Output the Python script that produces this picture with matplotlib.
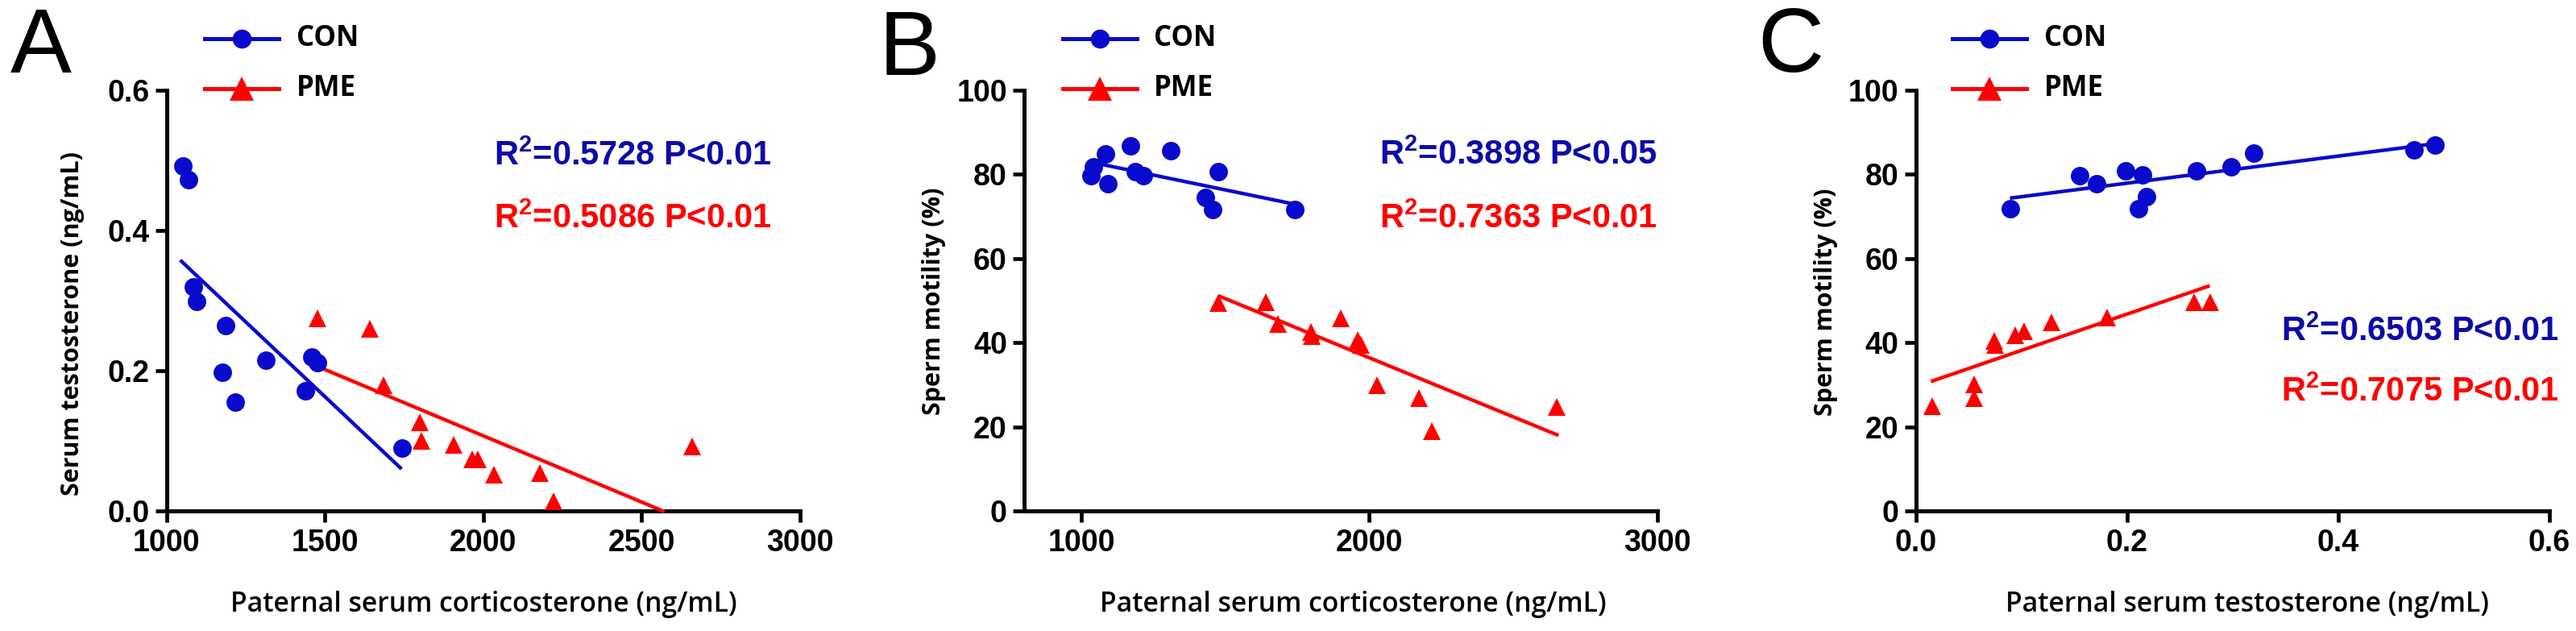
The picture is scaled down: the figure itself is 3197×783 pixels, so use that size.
import numpy as np
import matplotlib
matplotlib.use("Agg")
from matplotlib import pyplot as plt
from matplotlib.lines import Line2D

plt.rcParams['mathtext.fontset'] = 'custom'
plt.rcParams['mathtext.rm'] = 'Liberation Sans:bold'
plt.rcParams['mathtext.bf'] = 'Liberation Sans:bold'

# ---- data ----
# panel A: corticosterone vs testosterone
a_con_x = [1052, 1069, 1085, 1095, 1175, 1186, 1217, 1314, 1437, 1458, 1477, 1743]
a_con_y = [0.492, 0.472, 0.319, 0.299, 0.198, 0.264, 0.155, 0.215, 0.171, 0.220, 0.211, 0.090]
a_pme_x = [1477, 1641, 1684, 1799, 1804, 1906, 1964, 1983, 2033, 2179, 2222, 2660]
a_pme_y = [0.275, 0.260, 0.179, 0.126, 0.100, 0.094, 0.073, 0.073, 0.052, 0.054, 0.014, 0.092]
a_con_fit_x = [1047, 1738]
a_con_fit_y = [0.356, 0.0615]
a_pme_fit_x = [1498, 2567]
a_pme_fit_y = [0.202, 0.0]

# panel B: corticosterone vs motility
b_con_x = [1034, 1042, 1083, 1093, 1171, 1186, 1214, 1311, 1431, 1455, 1475, 1742]
b_con_y = [79.6, 81.8, 84.8, 77.7, 86.7, 80.7, 79.6, 85.7, 74.5, 71.6, 80.7, 71.6]
b_pme_x = [1476, 1640, 1682, 1797, 1800, 1902, 1959, 1972, 2026, 2173, 2217, 2652]
b_pme_y = [49.5, 49.6, 44.5, 42.5, 41.5, 45.8, 40.6, 39.5, 29.8, 26.8, 18.9, 24.8]
b_con_fit_x = [1076, 1742]
b_con_fit_y = [82.3, 72.9]
b_pme_fit_x = [1481, 2652]
b_pme_fit_y = [51.0, 18.1]

# panel C: testosterone vs motility
c_con_x = [0.090, 0.155, 0.171, 0.199, 0.211, 0.215, 0.219, 0.266, 0.299, 0.320, 0.472, 0.492]
c_con_y = [71.8, 79.7, 77.8, 80.9, 71.8, 79.9, 74.8, 80.9, 81.8, 85.0, 85.8, 86.9]
c_pme_x = [0.0155, 0.055, 0.055, 0.0745, 0.0755, 0.094, 0.103, 0.129, 0.181, 0.264, 0.279]
c_pme_y = [24.9, 30.0, 26.8, 40.5, 39.5, 41.8, 42.7, 44.8, 45.9, 49.6, 49.6]
c_con_fit_x = [0.091, 0.492]
c_con_fit_y = [74.4, 87.3]
c_pme_fit_x = [0.0159, 0.277]
c_pme_fit_y = [30.9, 53.4]

stats = {
    'A': ('R$^2$=0.5728 P<0.01', 'R$^2$=0.5086 P<0.01'),
    'B': ('R$^2$=0.3898 P<0.05', 'R$^2$=0.7363 P<0.01'),
    'C': ('R$^2$=0.6503 P<0.01', 'R$^2$=0.7075 P<0.01'),
}

BLUE = '#0A0ACD'
BLUE_TXT = '#0C0CA8'
RED = '#FF0000'
W, H = 3197, 783

fig = plt.figure(figsize=(W / 100, H / 100), dpi=100)

def make_axes(left_px, xlim, xticks, xticklabels, ylim, yticks, yticklabels):
    ax = fig.add_axes([left_px / W, 1 - 634 / H, 786 / W, 522 / H])
    ax.set_xlim(*xlim)
    ax.set_ylim(*ylim)
    for s in ['top', 'right']:
        ax.spines[s].set_visible(False)
    for s in ['left', 'bottom']:
        ax.spines[s].set_linewidth(3.6)
    ax.set_xticks(xticks)
    ax.set_xticklabels(xticklabels)
    ax.set_yticks(yticks)
    ax.set_yticklabels(yticklabels)
    ax.tick_params(direction='out', length=10, width=3.4, labelsize=27)
    ax.tick_params(axis='x', pad=6)
    ax.tick_params(axis='y', pad=5)
    for lab in ax.get_xticklabels() + ax.get_yticklabels():
        lab.set_family('Liberation Sans')
        lab.set_fontweight('bold')
    return ax

def draw(ax, cx, cy, px, py, cfx, cfy, pfx, pfy):
    ax.plot(cfx, cfy, color=BLUE, lw=3.2, zorder=3, clip_on=False)
    ax.plot(pfx, pfy, color=RED, lw=3.2, zorder=3, clip_on=False)
    ax.plot(cx, cy, 'o', color=BLUE, ms=16.5, mew=0, zorder=4, clip_on=False)
    ax.plot(px, py, '^', color=RED, ms=16.5, mew=0, zorder=4, clip_on=False)

def labels(ax, xlabel, ylabel, xl_pos, yl_pos):
    ax.set_xlabel(xlabel, fontsize=24.3, family='Open Sans', fontweight='semibold')
    ax.xaxis.set_label_coords(*xl_pos)
    ax.xaxis.label.set_verticalalignment('center')
    ax.set_ylabel(ylabel, fontsize=22, family='Open Sans', fontweight='bold')
    ax.yaxis.set_label_coords(*yl_pos)
    ax.yaxis.label.set_verticalalignment('center')

def stat_text(ax, key, x, y_blue, y_red):
    t1, t2 = stats[key]
    ax.text(x, y_blue, t1, transform=ax.transAxes, color=BLUE_TXT, fontsize=30,
            family='Liberation Sans', fontweight='bold', ha='left', va='center')
    ax.text(x, y_red, t2, transform=ax.transAxes, color=RED, fontsize=30,
            family='Liberation Sans', fontweight='bold', ha='left', va='center')

def legend(x0_px, xt_px):
    for y_px, col, mk, ms, lab in [(48, BLUE, 'o', 17, 'CON'), (110, RED, '^', 22, 'PME')]:
        yy = 1 - y_px / H
        fig.add_artist(Line2D([x0_px / W, (x0_px + 92) / W], [yy, yy], color=col, lw=3.6))
        fig.add_artist(Line2D([(x0_px + 46) / W], [yy], marker=mk, color=col, ms=ms, mew=0))
        fig.text(xt_px / W, yy, lab, fontsize=25, family='Open Sans', fontweight='bold',
                 ha='left', va='center')

def panel_letter(x_px, y_px, s):
    fig.text(x_px / W, 1 - y_px / H, s, fontsize=82, family='Liberation Sans',
             ha='center', va='center')

# ---- panel A ----
axA = make_axes(206.8, (1000, 3000), [1000, 1500, 2000, 2500, 3000],
                ['1000', '1500', '2000', '2500', '3000'],
                (0, 0.6), [0, 0.2, 0.4, 0.6], ['0.0', '0.2', '0.4', '0.6'])
draw(axA, a_con_x, a_con_y, a_pme_x, a_pme_y, a_con_fit_x, a_con_fit_y, a_pme_fit_x, a_pme_fit_y)
labels(axA, 'Paternal serum corticosterone (ng/mL)', 'Serum testosterone (ng/mL)',
       (0.501, -0.222), (-0.1486, 0.446))
stat_text(axA, 'A', 0.517, 0.843, 0.693)
legend(254, 368)
panel_letter(51, 61, 'A')

# ---- panel B ----
axB = make_axes(1270.6, (800, 3000), [1000, 2000, 3000], ['1000', '2000', '3000'],
                (0, 100), [0, 20, 40, 60, 80, 100], ['0', '20', '40', '60', '80', '100'])
draw(axB, b_con_x, b_con_y, b_pme_x, b_pme_y, b_con_fit_x, b_con_fit_y, b_pme_fit_x, b_pme_fit_y)
labels(axB, 'Paternal serum corticosterone (ng/mL)', 'Sperm motility (%)',
       (0.52, -0.222), (-0.142, 0.498))
stat_text(axB, 'B', 0.561, 0.846, 0.693)
legend(1319, 1432)
panel_letter(1129, 64, 'B')

# ---- panel C ----
axC = make_axes(2377.5, (0, 0.6), [0, 0.2, 0.4, 0.6], ['0.0', '0.2', '0.4', '0.6'],
                (0, 100), [0, 20, 40, 60, 80, 100], ['0', '20', '40', '60', '80', '100'])
draw(axC, c_con_x, c_con_y, c_pme_x, c_pme_y, c_con_fit_x, c_con_fit_y, c_pme_fit_x, c_pme_fit_y)
labels(axC, 'Paternal serum testosterone (ng/mL)', 'Sperm motility (%)',
       (0.524, -0.222), (-0.142, 0.496))
stat_text(axC, 'C', 0.577, 0.425, 0.282)
legend(2423, 2537)
panel_letter(2222, 60, 'C')

fig.savefig('out.png', dpi=100)
